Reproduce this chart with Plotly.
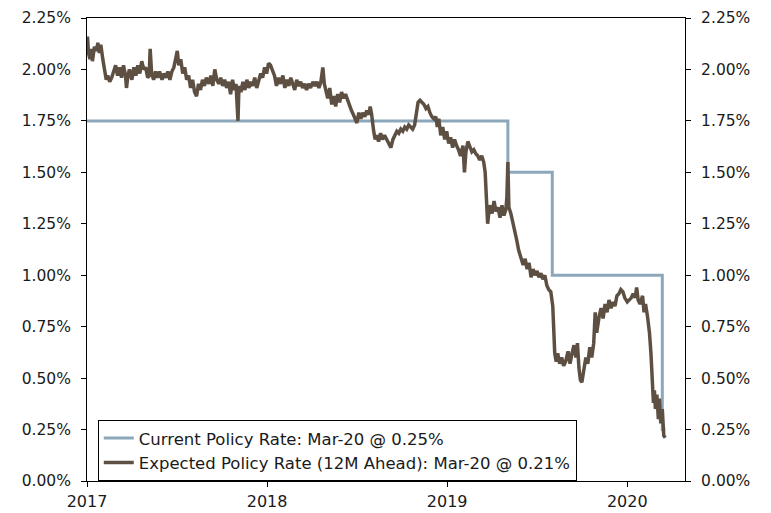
import plotly.graph_objects as go

# Current policy rate (step series)
policy_dates = ["2017-01-01", "2019-05-04", "2019-08-02", "2020-03-12", "2020-03-18"]
policy_vals = [1.75, 1.50, 1.00, 0.25, 0.25]

# Expected policy rate (12M ahead)
exp_dates = [
    "2017-01-02","2017-01-04","2017-01-07","2017-01-10","2017-01-12","2017-01-16","2017-01-20","2017-01-23","2017-01-26","2017-01-29",
    "2017-02-02","2017-02-06","2017-02-09","2017-02-12","2017-02-16","2017-02-20","2017-02-24","2017-02-28",
    "2017-03-04","2017-03-08","2017-03-12","2017-03-16","2017-03-20","2017-03-22","2017-03-25","2017-03-28",
    "2017-04-02","2017-04-06","2017-04-10","2017-04-14","2017-04-18","2017-04-22","2017-04-26","2017-04-30",
    "2017-05-04","2017-05-07","2017-05-09","2017-05-12","2017-05-16","2017-05-20","2017-05-24","2017-05-28",
    "2017-06-02","2017-06-06","2017-06-10","2017-06-14","2017-06-18","2017-06-22","2017-06-26","2017-06-30",
    "2017-07-03","2017-07-06","2017-07-10","2017-07-14","2017-07-18","2017-07-22","2017-07-26","2017-07-30",
    "2017-08-03","2017-08-07","2017-08-11","2017-08-15","2017-08-19","2017-08-23","2017-08-27","2017-08-31",
    "2017-09-05","2017-09-09","2017-09-13","2017-09-17","2017-09-21","2017-09-25","2017-09-29",
    "2017-10-03","2017-10-07","2017-10-11","2017-10-15","2017-10-19","2017-10-23","2017-10-27","2017-10-30",
    "2017-11-03","2017-11-05","2017-11-09","2017-11-13","2017-11-17","2017-11-21","2017-11-25","2017-11-29",
    "2017-12-03","2017-12-07","2017-12-11","2017-12-15","2017-12-19","2017-12-23","2017-12-27","2017-12-31",
    "2018-01-04","2018-01-08","2018-01-12","2018-01-16","2018-01-20","2018-01-24","2018-01-28",
    "2018-02-02","2018-02-06","2018-02-10","2018-02-14","2018-02-18","2018-02-22","2018-02-26",
    "2018-03-02","2018-03-06","2018-03-10","2018-03-14","2018-03-18","2018-03-22","2018-03-26","2018-03-30",
    "2018-04-04","2018-04-08","2018-04-12","2018-04-16","2018-04-20","2018-04-24","2018-04-27","2018-04-30",
    "2018-05-04","2018-05-08","2018-05-12","2018-05-16","2018-05-20","2018-05-24","2018-05-28",
    "2018-06-01","2018-06-05","2018-06-09","2018-06-13","2018-06-17","2018-06-21","2018-06-25","2018-06-29",
    "2018-07-02","2018-07-06","2018-07-10","2018-07-14","2018-07-18","2018-07-22","2018-07-26","2018-07-29",
    "2018-08-01","2018-08-05","2018-08-08","2018-08-11","2018-08-15","2018-08-19","2018-08-23","2018-08-27","2018-08-31",
    "2018-09-05","2018-09-09","2018-09-13","2018-09-17","2018-09-21","2018-09-25","2018-09-29",
    "2018-10-03","2018-10-07","2018-10-11","2018-10-15","2018-10-19","2018-10-23","2018-10-27","2018-10-30",
    "2018-11-03","2018-11-07","2018-11-11","2018-11-15","2018-11-19","2018-11-23","2018-11-27",
    "2018-12-01","2018-12-05","2018-12-09","2018-12-12","2018-12-15","2018-12-19","2018-12-23","2018-12-27","2018-12-31",
    "2019-01-04","2019-01-08","2019-01-12","2019-01-16","2019-01-20","2019-01-24","2019-01-28",
    "2019-02-02","2019-02-05","2019-02-08","2019-02-12","2019-02-16","2019-02-20","2019-02-24","2019-02-28",
    "2019-03-04","2019-03-08","2019-03-12","2019-03-16","2019-03-19","2019-03-22","2019-03-24","2019-03-28",
    "2019-04-02","2019-04-06","2019-04-10","2019-04-14","2019-04-18","2019-04-22","2019-04-26","2019-04-30",
    "2019-05-02","2019-05-04","2019-05-06","2019-05-10","2019-05-14","2019-05-18","2019-05-22","2019-05-26","2019-05-30",
    "2019-06-04","2019-06-08","2019-06-12","2019-06-16","2019-06-20","2019-06-24","2019-06-28",
    "2019-07-02","2019-07-06","2019-07-10","2019-07-14","2019-07-18","2019-07-22","2019-07-26","2019-07-30",
    "2019-08-03","2019-08-05","2019-08-07","2019-08-10","2019-08-13","2019-08-17","2019-08-21","2019-08-25","2019-08-29",
    "2019-09-03","2019-09-07","2019-09-11","2019-09-15","2019-09-19","2019-09-22","2019-09-25","2019-09-28",
    "2019-10-01","2019-10-05","2019-10-09","2019-10-13","2019-10-17","2019-10-21","2019-10-25","2019-10-28","2019-10-31",
    "2019-11-05","2019-11-09","2019-11-13","2019-11-17","2019-11-21","2019-11-25","2019-11-29",
    "2019-12-03","2019-12-07","2019-12-11","2019-12-15","2019-12-19","2019-12-23","2019-12-27",
    "2020-01-01","2020-01-05","2020-01-09","2020-01-13","2020-01-17","2020-01-20","2020-01-23","2020-01-27",
    "2020-02-01","2020-02-04","2020-02-07","2020-02-11","2020-02-15","2020-02-18","2020-02-21","2020-02-23","2020-02-25","2020-02-27",
    "2020-03-01","2020-03-04","2020-03-06","2020-03-09","2020-03-12","2020-03-15","2020-03-18",
]
exp_vals = [
    2.16,2.08,2.05,2.10,2.04,2.11,2.09,2.13,2.08,2.12,
    2.05,1.99,1.95,1.97,1.94,1.96,1.99,2.02,
    1.97,2.01,1.96,2.02,1.97,1.91,1.97,2.00,
    1.95,2.01,1.97,2.02,1.98,2.04,2.00,2.01,
    1.96,1.97,2.10,1.98,1.95,1.99,1.96,1.99,
    1.95,1.98,1.96,1.99,1.95,1.99,2.01,2.05,
    2.09,2.02,2.05,1.98,2.01,1.95,1.97,1.91,
    1.95,1.89,1.87,1.93,1.90,1.95,1.92,1.96,
    1.93,1.97,1.92,2.00,1.95,1.93,1.96,
    1.92,1.95,1.91,1.94,1.88,1.95,1.90,1.93,
    1.75,1.92,1.89,1.94,1.90,1.95,1.91,1.94,
    1.92,1.96,1.91,1.94,1.98,1.96,2.01,1.98,
    2.03,2.02,1.99,1.97,1.92,1.96,1.93,
    1.97,1.91,1.95,1.92,1.96,1.93,1.90,
    1.95,1.92,1.94,1.91,1.93,1.90,1.93,1.91,
    1.94,1.92,1.94,1.91,1.94,2.01,1.93,1.90,
    1.86,1.91,1.83,1.87,1.82,1.88,1.84,
    1.89,1.86,1.88,1.85,1.83,1.80,1.78,1.75,
    1.74,1.79,1.76,1.79,1.77,1.80,1.78,1.82,
    1.78,1.70,1.66,1.68,1.65,1.69,1.66,1.68,1.66,
    1.64,1.62,1.66,1.68,1.70,1.69,1.71,
    1.70,1.72,1.71,1.73,1.72,1.71,1.73,1.78,
    1.84,1.85,1.84,1.83,1.81,1.82,1.79,
    1.77,1.76,1.77,1.72,1.76,1.68,1.72,1.66,1.70,
    1.64,1.67,1.62,1.66,1.63,1.61,1.58,
    1.63,1.50,1.60,1.65,1.62,1.60,1.61,1.59,
    1.58,1.56,1.58,1.55,1.50,1.33,1.25,1.34,
    1.30,1.36,1.31,1.33,1.28,1.34,1.29,1.32,
    1.38,1.55,1.33,1.30,1.26,1.22,1.17,1.12,1.09,
    1.05,1.08,1.03,1.06,0.99,1.03,1.00,
    1.02,0.99,1.01,0.98,1.00,0.95,0.93,0.92,
    0.85,0.70,0.62,0.58,0.62,0.57,0.60,0.56,0.58,
    0.63,0.57,0.62,0.66,0.60,0.67,0.55,0.49,
    0.48,0.55,0.60,0.57,0.65,0.60,0.67,0.82,0.72,
    0.80,0.84,0.79,0.86,0.82,0.88,0.84,
    0.87,0.85,0.90,0.91,0.93,0.92,0.89,
    0.87,0.88,0.89,0.91,0.89,0.94,0.88,0.86,
    0.90,0.82,0.86,0.80,0.72,0.62,0.50,0.38,0.44,0.35,
    0.42,0.30,0.40,0.28,0.35,0.22,0.21,
]

year_ticks = ["2017-01-01", "2018-01-01", "2019-01-01", "2020-01-01"]
year_labels = ["2017", "2018", "2019", "2020"]
y_ticks = [0, 0.25, 0.5, 0.75, 1.0, 1.25, 1.5, 1.75, 2.0, 2.25]
y_labels = ["0.00%", "0.25%", "0.50%", "0.75%", "1.00%", "1.25%", "1.50%", "1.75%", "2.00%", "2.25%"]

BLUE = "#8CA7BA"
BROWN = "#5D5043"
FONT = "DejaVu Sans"
TXT = "#1a1a1a"

fig = go.Figure()
fig.add_trace(go.Scatter(
    x=policy_dates, y=policy_vals, mode="lines", line_shape="hv",
    line=dict(color=BLUE, width=3),
    name="Current Policy Rate: Mar-20 @ 0.25%", legendgroup="a",
))
fig.add_trace(go.Scatter(
    x=exp_dates, y=exp_vals, mode="lines",
    line=dict(color=BROWN, width=3.5),
    name="Expected Policy Rate (12M Ahead): Mar-20 @ 0.21%", legendgroup="b",
))
# invisible trace to anchor the right axis
fig.add_trace(go.Scatter(
    x=policy_dates[:1], y=policy_vals[:1], yaxis="y2", mode="lines",
    line=dict(color="rgba(0,0,0,0)"), showlegend=False, hoverinfo="skip",
))

axis_common = dict(
    showline=True, linecolor="black", linewidth=1,
    ticks="outside", ticklen=5, tickcolor="black", tickwidth=1,
    showgrid=False, zeroline=False, automargin=False,
)

fig.update_layout(
    width=771, height=513,
    margin=dict(l=87, r=86, t=18, b=32),
    paper_bgcolor="white", plot_bgcolor="white",
    font=dict(family=FONT, size=15, color=TXT),
    showlegend=True,
    legend=dict(
        x=0.018, y=0.132, xanchor="left", yanchor="top",
        bgcolor="white", bordercolor="black", borderwidth=1,
        font=dict(family=FONT, size=16.5, color=TXT),
        itemwidth=30, tracegroupgap=0,
        traceorder="normal",
    ),
    xaxis=dict(
        **axis_common, type="date",
        range=["2017-01-01", "2020-04-27"],
        tickvals=year_ticks, ticktext=year_labels,
        mirror=True, ticklabelstandoff=1,
        tickfont=dict(family=FONT, size=16, color=TXT),
    ),
    yaxis=dict(
        **axis_common, range=[0, 2.25],
        tickvals=y_ticks, ticktext=y_labels, ticklabelstandoff=7,
        tickfont=dict(family=FONT, size=15.5, color=TXT),
    ),
    yaxis2=dict(
        **axis_common, range=[0, 2.25], overlaying="y", side="right",
        tickvals=y_ticks, ticktext=y_labels, ticklabelstandoff=7,
        tickfont=dict(family=FONT, size=15.5, color=TXT),
    ),
)

fig.write_html(
    "out.html",
    config={"displayModeBar": False},
    post_script="document.body.style.margin='0';document.body.style.overflow='hidden';",
)
